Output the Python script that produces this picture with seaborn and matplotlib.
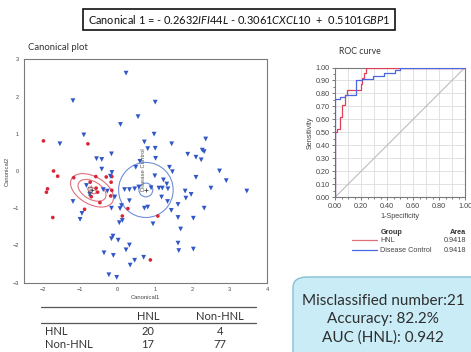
import numpy as np
import pandas as pd
import matplotlib
matplotlib.use('Agg')
import matplotlib.pyplot as plt
import seaborn as sns
from matplotlib.patches import Ellipse, FancyBboxPatch
from matplotlib.lines import Line2D
from matplotlib.ticker import MultipleLocator, FormatStrFormatter

# canonical scores
hnl_x = [-1.98, -0.79, -1.71, -1.60, -1.17, -0.58, -0.30, -0.15, -0.73, -0.17, -1.87, -1.90,
         -0.15, -0.53, -0.70, -0.47, -0.18, -0.88, 0.28, 0.13, 1.08, -1.73, 0.88, -0.57]
hnl_y = [0.81, 0.73, 0.00, -0.14, -0.18, -0.15, -0.16, -0.15, -0.30, -0.30, -0.48, -0.57,
         -0.52, -0.57, -0.69, -0.85, -0.67, -1.03, -1.01, -1.21, -1.21, -1.25, -2.39, -0.46]
dc_x = [0.23, -1.19, 1.01, 0.55, 0.08, -0.90, 0.98, -1.54, 0.72, 1.45, 2.36, 0.81, 1.01, -0.16,
        1.88, 2.27, 2.32, 2.10, 2.24, -0.56, -0.42, 1.02, 0.60, -0.42, 0.49, 1.39, 1.47, 2.73,
        -0.15, -0.19, 1.00, 2.10, 1.23, 2.91, 1.32, -0.83, 0.57, 0.90, 1.11, 1.20, 1.35, 2.50,
        3.46, 0.19, 0.32, 0.46, -0.38, -0.27, 1.81, 1.97, -0.74, -0.07, 1.18, 1.83,
        -1.19, 0.32, 1.34, 1.62, 0.72, 0.81, 0.11, -0.16, 0.07, 2.32, 1.44, -0.95, -1.00, 1.62,
        2.03, 0.13, 0.05, 0.95, 1.69, -0.12, -0.16, 0.02, 0.32, 1.62, 0.23, 2.03, 1.64, -0.36,
        -0.11, 0.70, 0.46, 0.34, -0.23, -0.02]
dc_y = [2.63, 1.89, 1.85, 1.46, 1.25, 0.97, 0.99, 0.73, 0.78, 0.73, 0.86, 0.60, 0.61, 0.46,
        0.45, 0.56, 0.52, 0.37, 0.30, 0.33, 0.31, 0.34, 0.26, 0.05, 0.10, 0.10, -0.02, 0.00,
        -0.04, -0.14, -0.13, -0.17, -0.24, -0.26, -0.35, -0.39, -0.43, -0.45, -0.46, -0.46, -0.48, -0.46,
        -0.54, -0.50, -0.50, -0.48, -0.50, -0.54, -0.54, -0.63, -0.63, -0.70, -0.70, -0.73,
        -0.82, -0.80, -0.82, -0.90, -1.00, -0.97, -0.93, -1.00, -1.01, -1.00, -1.06, -1.14, -1.30, -1.25,
        -1.27, -1.33, -1.39, -1.42, -1.56, -1.75, -1.82, -1.86, -1.99, -1.94, -2.12, -2.10, -2.14, -2.20,
        -2.27, -2.32, -2.40, -2.53, -2.79, -2.86]

# group centres and density contours
ell_group = ['HNL', 'HNL', 'HNL', 'Disease Control', 'Disease Control']
ell_cx = [-0.68, -0.68, -0.68, 0.76, 0.76]
ell_cy = [-0.52, -0.52, -0.52, -0.51, -0.51]
ell_w = [1.26, 0.82, 0.25, 1.46, 0.37]
ell_h = [0.74, 0.48, 0.15, 1.48, 0.37]
ell_angle = [-30, -30, -30, 0, 0]

# ROC curves
red_fpr = [0, 0, 0.018, 0.038, 0.056, 0.074, 0.092, 0.197, 0.21, 0.225, 0.24, 1.0]
red_tpr = [0, 0.50, 0.53, 0.62, 0.71, 0.79, 0.83, 0.875, 0.917, 0.958, 1.0, 1.0]
blue_fpr = [0, 0, 0.038, 0.08, 0.16, 0.21, 0.29, 0.375, 0.46, 0.50, 1.0]
blue_tpr = [0, 0.755, 0.77, 0.79, 0.90, 0.915, 0.935, 0.96, 0.98, 1.0, 1.0]
legend_groups = ['HNL', 'Disease Control']
legend_area = ['0.9418', '0.9418']

# confusion table
table_cols = ['HNL', 'Non-HNL']
table_rows = ['HNL', 'Non-HNL']
table_vals = [[20, 4], [17, 77]]

summary_lines = ['Misclassified number:21', 'Accuracy: 82.2%', 'AUC (HNL): 0.942']

RED = '#d9263a'
BLUE = '#3057c8'
colors = {'HNL': RED, 'Disease Control': BLUE}
ell_colors = {'HNL': '#e0707c', 'Disease Control': '#6f8fdc'}
roc_colors = {'HNL': '#e0405a', 'Disease Control': '#4a66e0'}

sns.set_style('white')
plt.rcParams['font.family'] = ['Liberation Sans', 'DejaVu Sans']
plt.rcParams['mathtext.fontset'] = 'custom'
plt.rcParams['mathtext.it'] = 'Lato:italic'
plt.rcParams['mathtext.rm'] = 'Lato'

W, H = 471, 352
fig = plt.figure(figsize=(W / 100, H / 100), dpi=100)
fig.patch.set_facecolor('white')

def fx(px):
    return px / W

def fy(py):
    return 1 - py / H

# ---- canonical plot ----
ax1 = fig.add_axes([fx(24), fy(282.6), fx(243), 223.2 / H])
df = pd.DataFrame({
    'Canonical1': hnl_x + dc_x,
    'Canonical2': hnl_y + dc_y,
    'group': ['HNL'] * len(hnl_x) + ['Disease Control'] * len(dc_x),
})
sns.scatterplot(data=df, x='Canonical1', y='Canonical2', hue='group', style='group',
                size='group', sizes={'HNL': 7, 'Disease Control': 12},
                palette=colors, markers={'HNL': 'o', 'Disease Control': 'v'},
                linewidth=0, legend=False, ax=ax1, zorder=3)
for g, cx, cy, w, h, a in zip(ell_group, ell_cx, ell_cy, ell_w, ell_h, ell_angle):
    ax1.add_patch(Ellipse((cx, cy), w, h, angle=a, fill=False,
                          edgecolor=ell_colors[g], lw=0.8, zorder=2))
ax1.plot([ell_cx[0], ell_cx[3]], [ell_cy[0], ell_cy[3]], ls='none', marker='+',
         color='#444444', ms=3, mew=0.6, zorder=4)
ax1.text(ell_cx[0] - 0.03, ell_cy[0] - 0.12, 'HNL', rotation=90, fontsize=4.3,
         color='#555555', ha='center', va='bottom', zorder=5)
ax1.text(ell_cx[3] - 0.06, ell_cy[3] - 0.02, 'Disease Control', rotation=90, fontsize=4.3,
         color='#555555', ha='center', va='bottom', zorder=5)
ax1.set_xlim(-2.5, 4.0)
ax1.set_ylim(-3, 3)
ax1.xaxis.set_major_locator(MultipleLocator(1))
ax1.yaxis.set_major_locator(MultipleLocator(1))
ax1.tick_params(labelsize=4, length=2, width=0.5, colors='#444444', pad=1.5, direction='out')
ax1.set_xticks(np.arange(-2, 5, 1))
ax1.set_xlabel('Canonical1', fontsize=4.2, color='#444444', labelpad=2)
ax1.set_ylabel('Canonical2', fontsize=4.2, color='#444444', labelpad=2)
for sp in ax1.spines.values():
    sp.set_color('#7a7a7a')
    sp.set_linewidth(0.8)

fig.text(fx(28), fy(48), 'Canonical plot', fontsize=6.8, family='Lato', color='#333333',
         ha='left', va='center')

# ---- ROC curve ----
ax2 = fig.add_axes([fx(335), fy(197.3), fx(130), 129.8 / H])
for v in np.arange(0.1, 1.0, 0.1):
    ax2.axvline(v, color='#dddddd', lw=0.6, zorder=0)
    ax2.axhline(v, color='#dddddd', lw=0.6, zorder=0)
ax2.plot([0, 1], [0, 1], color='#b5b5b5', lw=0.7, zorder=1)
roc = pd.DataFrame({
    'fpr': red_fpr + blue_fpr,
    'tpr': red_tpr + blue_tpr,
    'group': ['HNL'] * len(red_fpr) + ['Disease Control'] * len(blue_fpr),
})
sns.lineplot(data=roc, x='fpr', y='tpr', hue='group', palette=roc_colors,
             estimator=None, sort=False, drawstyle='steps-post', lw=0.9, legend=False, ax=ax2, zorder=3)
ax2.set_xlim(0, 1)
ax2.set_ylim(0, 1)
ax2.xaxis.set_major_locator(MultipleLocator(0.2))
ax2.xaxis.set_minor_locator(MultipleLocator(0.05))
ax2.yaxis.set_major_locator(MultipleLocator(0.1))
ax2.yaxis.set_minor_locator(MultipleLocator(0.05))
ax2.xaxis.set_major_formatter(FormatStrFormatter('%.2f'))
ax2.yaxis.set_major_formatter(FormatStrFormatter('%.2f'))
ax2.tick_params(which='major', labelsize=5.2, length=2.5, width=0.5, colors='#444444', pad=1.5)
ax2.tick_params(which='minor', length=1.5, width=0.5, colors='#444444')
ax2.tick_params(axis='both', which='both', bottom=True, left=True, direction='out')
ax2.set_xlabel('1-Specificity', fontsize=5.2, color='#444444', labelpad=2)
ax2.set_ylabel('Sensitivity', fontsize=5.2, color='#444444', labelpad=1)
for sp in ax2.spines.values():
    sp.set_color('#7a7a7a')
    sp.set_linewidth(0.8)

fig.text(fx(360), fy(51), 'ROC curve', fontsize=6.3, family='Lato', color='#333333',
         ha='center', va='center')

# ROC legend
fig.text(fx(392), fy(232), 'Group', fontsize=5.2, weight='bold', color='#333333', ha='center', va='center')
fig.text(fx(466), fy(232), 'Area', fontsize=5.2, weight='bold', color='#333333', ha='right', va='center')
for i, g in enumerate(legend_groups):
    yy = fy(240 + 10 * i)
    fig.add_artist(Line2D([fx(352), fx(377)], [yy, yy], color=ell_colors[g] if g == 'HNL' else roc_colors[g], lw=0.9))
    fig.text(fx(380), yy, g, fontsize=5.2, color='#444444', ha='left', va='center')
    fig.text(fx(466), yy, legend_area[i], fontsize=5.2, color='#444444', ha='right', va='center')

# ---- equation box ----
fig.text(fx(239), fy(19.5),
         r'Canonical 1 = - 0.2632$\mathit{IFI44L}$ - 0.3061$\mathit{CXCL10}$  +  0.5101$\mathit{GBP1}$',
         fontsize=7.9, family='Lato', color='#111111', ha='center', va='center',
         bbox=dict(boxstyle='square,pad=0.4', facecolor='white', edgecolor='#111111', lw=1.2))

# ---- confusion table ----
tbl_font = dict(fontsize=8, family='Lato', color='#333333', va='center')
fig.add_artist(Line2D([fx(41), fx(256)], [fy(306.7), fy(306.7)], color='#555555', lw=0.9))
fig.add_artist(Line2D([fx(41), fx(256)], [fy(322.7), fy(322.7)], color='#555555', lw=0.9))
col_x = [148, 220]
for cx, c in zip(col_x, table_cols):
    fig.text(fx(cx), fy(316), c, ha='center', **tbl_font)
for r, (lab, vals) in enumerate(zip(table_rows, table_vals)):
    yy = fy(331.5 + 13 * r)
    fig.text(fx(45), yy, lab, ha='left', **tbl_font)
    for cx, v in zip(col_x, vals):
        fig.text(fx(cx), yy, str(v), ha='center', **tbl_font)

# ---- summary box ----
box = FancyBboxPatch((fx(293), fy(372)), fx(200), 95 / H,
                     boxstyle='round,pad=0,rounding_size=0.03',
                     transform=fig.transFigure, facecolor='#c9ecf7', edgecolor='#86c0d3',
                     lw=1.0, zorder=0)
fig.add_artist(box)
for i, line in enumerate(summary_lines):
    fig.text(fx(383), fy(301 + 18.5 * i), line, fontsize=11, family='Lato', color='#2e2e2e',
             ha='center', va='center')

fig.savefig('out.png', dpi=100, facecolor='white')
